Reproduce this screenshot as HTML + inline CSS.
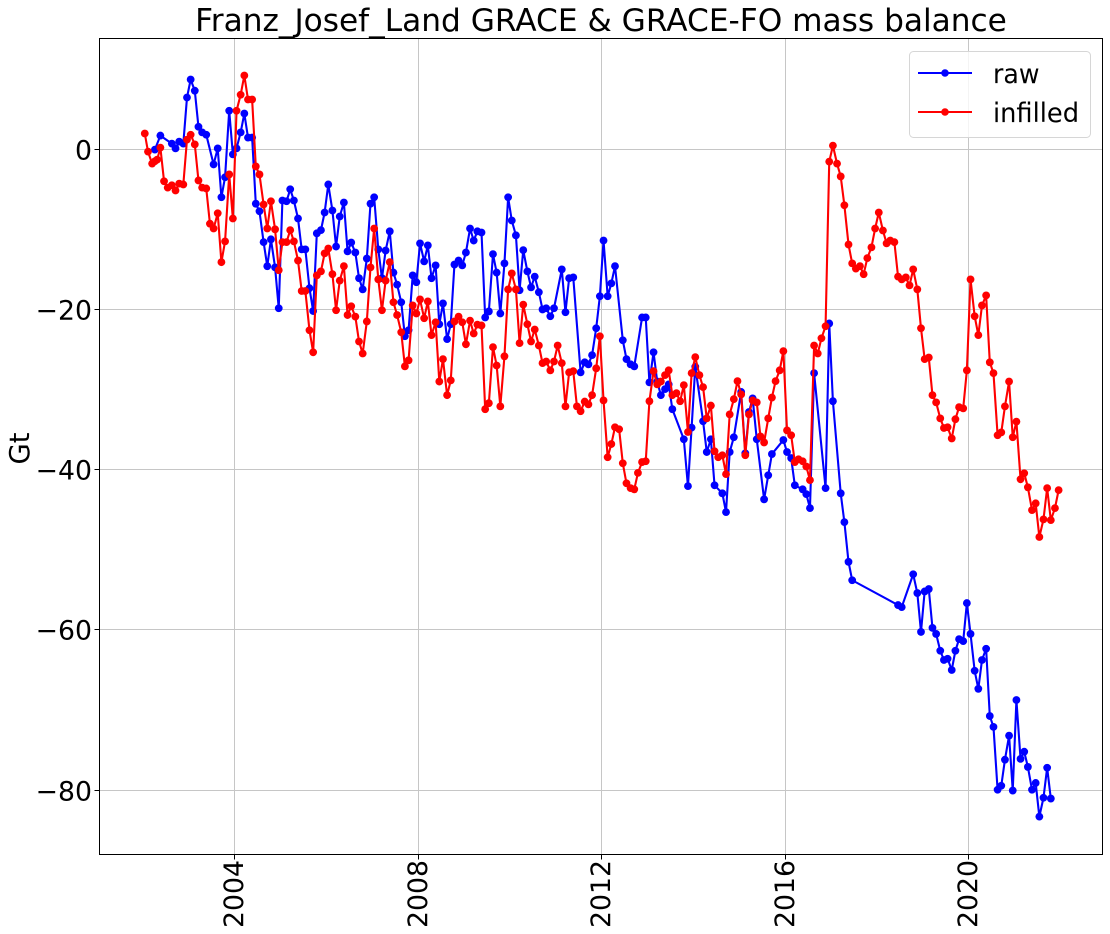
<!DOCTYPE html>
<html lang="en">
<head>
<meta charset="utf-8">
<title>Franz_Josef_Land GRACE &amp; GRACE-FO mass balance</title>
<style>
  html, body { margin: 0; padding: 0; background: #fff; }
  svg { display: block; font-family: "DejaVu Sans", "Liberation Sans", sans-serif; fill: #000; }
</style>
</head>
<body>
<svg id="chart" xmlns="http://www.w3.org/2000/svg" width="1110" height="934" viewBox="0 0 1110 934">
  <rect x="0" y="0" width="1110" height="934" fill="#ffffff"></rect>
  <g id="grid"></g>
  <g id="series"></g>
  <rect x="99.5" y="38.5" width="1003" height="816" fill="none" stroke="#000" stroke-width="1"></rect>
  <g id="ticks"></g>
  <text x="601" y="31" font-size="31.2" text-anchor="middle">Franz_Josef_Land GRACE &amp; GRACE-FO mass balance</text>
  <text transform="translate(29,448.5) rotate(-90)" font-size="27.5" text-anchor="middle">Gt</text>
  <g>
    <rect x="909.5" y="51.5" width="181" height="86" rx="4" ry="4" fill="#ffffff" fill-opacity="0.8" stroke="#d6d6d6" stroke-width="1"></rect>
    <g>
      <line x1="918" y1="73" x2="972" y2="73" stroke="#0000ff" stroke-width="2"></line>
      <circle cx="945" cy="73" r="3.8" fill="#0000ff"></circle>
      <text x="993" y="83" font-size="26.7" textLength="46.5" lengthAdjust="spacingAndGlyphs">raw</text>
    </g>
    <g>
      <line x1="918" y1="112" x2="972" y2="112" stroke="#ff0000" stroke-width="2"></line>
      <circle cx="945" cy="112" r="3.8" fill="#ff0000"></circle>
      <text x="993" y="122" font-size="26.7" textLength="86" lengthAdjust="spacingAndGlyphs">infilled</text>
    </g>
  </g>
</svg>
<script>
const xTickYears = [2004, 2008, 2012, 2016, 2020];
const yTickValues = [0, -20, -40, -60, -80];

const dates = [
  2002.04,2002.11,2002.20,2002.26,2002.31,
  2002.38,2002.46,2002.54,2002.63,2002.71,2002.79,2002.88,2002.96,
  2003.04,2003.13,2003.21,2003.29,2003.38,2003.46,2003.54,2003.63,2003.71,2003.79,2003.88,2003.96,
  2004.04,2004.13,2004.21,2004.29,2004.38,2004.46,2004.54,2004.63,2004.71,2004.79,2004.88,2004.96,
  2005.04,2005.13,2005.21,2005.29,2005.38,2005.46,2005.54,2005.63,2005.71,2005.79,2005.88,2005.96,
  2006.04,2006.13,2006.21,2006.29,2006.38,2006.46,2006.54,2006.63,2006.71,2006.79,2006.88,2006.96,
  2007.04,2007.13,2007.21,2007.29,2007.38,2007.46,2007.54,2007.63,2007.71,2007.79,2007.88,2007.96,
  2008.04,2008.13,2008.21,2008.29,2008.38,2008.46,2008.54,2008.63,2008.71,2008.79,2008.88,2008.96,
  2009.04,2009.13,2009.21,2009.29,2009.38,2009.46,2009.54,2009.63,2009.71,2009.79,2009.88,2009.96,
  2010.04,2010.13,2010.21,2010.29,2010.38,2010.46,2010.54,2010.63,2010.71,2010.79,2010.88,2010.96,
  2011.04,2011.13,2011.21,2011.29,2011.38,2011.46,2011.54,2011.63,2011.71,2011.79,2011.88,2011.96,
  2012.04,2012.13,2012.21,2012.29,2012.38,2012.46,2012.54,2012.63,2012.71,2012.79,2012.88,2012.96,
  2013.04,2013.13,2013.21,2013.29,2013.38,2013.46,2013.54,2013.63,2013.71,2013.79,2013.88,2013.96,
  2014.04,2014.13,2014.21,2014.29,2014.38,2014.46,2014.54,2014.63,2014.71,2014.79,2014.88,2014.96,
  2015.04,2015.13,2015.21,2015.29,2015.38,2015.46,2015.54,2015.63,2015.71,2015.79,2015.88,2015.96,
  2016.04,2016.13,2016.21,2016.29,2016.38,2016.46,2016.54,2016.63,2016.71,2016.79,2016.88,2016.96,
  2017.04,2017.13,2017.21,2017.29,2017.38,2017.46,2017.54,2017.63,2017.71,2017.79,2017.88,2017.96,
  2018.04,2018.13,2018.21,2018.29,2018.38,2018.46,2018.54,2018.63,2018.71,2018.79,2018.88,2018.96,
  2019.04,2019.13,2019.21,2019.29,2019.38,2019.46,2019.54,2019.63,2019.71,2019.79,2019.88,2019.96,
  2020.04,2020.13,2020.21,2020.29,2020.38,2020.46,2020.54,2020.63,2020.71,2020.79,2020.88,2020.96,
  2021.04,2021.13,2021.21,2021.29,2021.38,2021.46,2021.54,2021.63,2021.71,2021.79,2021.88,2021.96
];

const rawValues = [
  null,null,null,-0.05,null,
  1.7,null,null,0.7,0.1,0.95,0.7,6.45,
  8.7,7.3,2.8,2.1,1.8,null,-1.9,0.1,-6.0,-3.5,4.8,-0.65,
  0.1,2.1,4.45,1.45,1.45,-6.8,-7.75,-11.6,-14.6,-11.25,-14.75,-19.85,
  -6.4,-6.5,-5.0,-6.4,-8.65,-12.5,-12.5,-17.35,-20.2,-10.5,-10.1,-7.9,
  -4.4,-7.65,-12.15,-8.4,-6.65,-12.75,-11.65,-12.9,-16.1,-17.5,-13.65,-6.8,
  -6.0,-12.5,-16.1,-12.65,-10.25,-15.4,-16.9,-19.1,-23.35,-22.6,-15.75,-16.6,
  -11.75,-14.0,-12.0,-16.1,-14.5,-21.85,-19.25,-23.7,-21.85,-14.4,-13.9,-14.5,
  -12.9,-9.9,-11.4,-10.25,-10.4,-21.0,-20.25,-13.1,-15.4,-20.5,-14.25,-6.0,
  -8.9,-10.75,-17.6,-12.6,-15.25,-17.25,-15.9,-17.85,-20.0,-19.85,-20.85,-19.85,
  null,-15.0,-20.35,-16.1,-16.0,null,-27.85,-26.6,-26.85,-25.7,-22.35,-18.35,
  -11.4,-18.35,-16.75,-14.6,null,-23.85,-26.2,-26.85,-27.1,null,-21.0,-21.0,
  -29.1,-25.35,-29.0,-30.7,-29.95,-29.35,-32.45,null,null,-36.2,-42.05,-34.75,
  -27.15,null,-33.95,-37.8,-36.2,-41.95,null,-42.95,-45.3,-37.8,-35.95,null,
  -30.3,-37.95,-32.8,-31.1,-36.2,null,-43.7,-40.7,-38.05,null,null,-36.3,
  -37.8,-38.55,-41.95,null,-42.45,-43.05,-44.8,-27.95,null,null,-42.3,-21.75,
  -31.45,null,-42.95,-46.55,-51.5,-53.8,null,null,null,null,null,null,
  null,null,null,null,null,-56.9,-57.15,null,null,-53.05,-55.4,-60.25,
  -55.2,-54.9,-59.75,-60.5,-62.6,-63.75,-63.6,-65.0,-62.6,-61.15,-61.4,-56.65,
  -60.5,-65.1,-67.35,-63.75,-62.35,-70.75,-72.1,-79.95,-79.45,-76.2,-73.2,-80.05,
  -68.75,-76.1,-75.2,-77.1,-79.95,-79.1,-83.3,-80.95,-77.2,-81.05,null,null
];

const infilledValues = [
  1.96,-0.3,-1.8,-1.5,-1.3,
  0.2,-4.0,-4.8,-4.5,-5.15,-4.3,-4.4,1.2,
  1.8,0.6,-3.9,-4.8,-4.9,-9.3,-9.9,-8.0,-14.1,-11.5,-3.15,-8.65,
  4.8,6.8,9.2,6.2,6.2,-2.15,-3.15,-6.9,-9.9,-6.5,-10.0,-15.1,
  -11.6,-11.6,-10.1,-11.5,-13.9,-17.7,-17.7,-22.6,-25.35,-15.75,-15.25,-13.0,
  -12.4,-15.6,-20.1,-16.4,-14.6,-20.7,-19.6,-20.9,-24.0,-25.5,-21.5,-14.75,
  -9.9,-16.25,-20.1,-16.4,-14.1,-19.1,-20.7,-22.85,-27.1,-26.35,-19.5,-20.5,
  -18.75,-21.1,-19.0,-23.2,-21.6,-29.0,-26.2,-30.7,-28.85,-21.5,-20.9,-21.6,
  -24.35,-21.4,-23.0,-21.9,-22.0,-32.45,-31.7,-24.7,-27.0,-32.1,-25.85,-17.5,
  -15.5,-17.5,-24.2,-19.4,-21.85,-24.0,-22.5,-24.5,-26.7,-26.5,-27.6,-26.5,
  -24.5,-26.7,-32.1,-27.85,-27.7,-32.1,-32.7,-31.5,-31.85,-30.7,-27.35,-23.35,
  -31.35,-38.45,-36.8,-34.7,-34.95,-39.2,-41.7,-42.3,-42.45,-40.4,-39.05,-38.95,
  -31.45,-27.7,-29.35,-29.0,-28.2,-27.6,-30.7,-30.45,-31.45,-29.45,-35.3,-27.95,
  -25.95,-28.2,-29.7,-33.6,-32.0,-37.7,-38.45,-38.2,-40.55,-33.1,-31.2,-28.95,
  -30.6,-38.2,-33.1,-31.35,-31.6,-35.85,-36.6,-33.6,-31.0,-28.95,-27.6,-25.2,
  -35.1,-35.7,-39.05,-38.7,-38.95,-39.6,-41.3,-24.5,-25.5,-23.6,-22.1,-1.55,
  0.45,-1.8,-3.4,-7.0,-11.9,-14.25,-14.9,-14.6,-15.6,-13.6,-12.25,-9.9,
  -7.9,-10.15,-11.75,-11.4,-11.6,-15.9,-16.25,-16.0,-17.0,-15.0,-17.5,-22.35,
  -26.2,-26.0,-30.7,-31.6,-33.6,-34.8,-34.7,-36.1,-33.7,-32.2,-32.35,-27.6,
  -16.25,-20.85,-23.2,-19.5,-18.25,-26.6,-27.95,-35.7,-35.35,-32.1,-29.0,-35.95,
  -34.0,-41.2,-40.45,-42.2,-45.05,-44.2,-48.4,-46.2,-42.3,-46.3,-44.8,-42.55
];

const SVG_NS = 'http://www.w3.org/2000/svg';
const plot = { left: 99.5, right: 1102.5, top: 38.5, bottom: 854.5 };

function xScale(year) { return 234.7 + (year - 2004) * 45.875; }
function yScale(value) { return 149.2 - value * 8.012; }

function make(parent, tag, attrs) {
  const el = document.createElementNS(SVG_NS, tag);
  for (const key in attrs) el.setAttribute(key, attrs[key]);
  parent.appendChild(el);
  return el;
}

const gridGroup = document.getElementById('grid');
const tickGroup = document.getElementById('ticks');
const seriesGroup = document.getElementById('series');

xTickYears.forEach(function (year) {
  const x = Math.floor(xScale(year)) + 0.5;
  const gridLine = make(gridGroup, 'line', { x1: x, y1: plot.top, x2: x, y2: plot.bottom, stroke: '#c6c6c6', 'stroke-width': 1 });
  
  
  const tick = make(tickGroup, 'line', { x1: x, y1: plot.bottom, x2: x, y2: plot.bottom + 5, stroke: '#000', 'stroke-width': 1 });
  
  
  const label = make(tickGroup, 'text', { transform: 'translate(' + (x + 8.5) + ',' + 928 + ') rotate(-90)', 'font-size': 26.7 });
  
  
  label.textContent = String(year);
});

yTickValues.forEach(function (value) {
  const y = Math.floor(yScale(value)) + 0.5;
  const gridLine = make(gridGroup, 'line', { x1: plot.left, y1: y, x2: plot.right, y2: y, stroke: '#c6c6c6', 'stroke-width': 1 });
  
  
  const tick = make(tickGroup, 'line', { x1: plot.left - 5, y1: y, x2: plot.left, y2: y, stroke: '#000', 'stroke-width': 1 });
  
  
  const label = make(tickGroup, 'text', { x: 92, y: y + 10, 'font-size': 26.7, 'text-anchor': 'end' });
  
  
  label.textContent = value < 0 ? '\u2212' + Math.abs(value) : String(value);
});

function drawSeries(values, color, seriesName) {
  const group = make(seriesGroup, 'g', {});
  
  
  const coords = [];
  values.forEach(function (value, i) {
    if (value === null) return;
    coords.push([xScale(dates[i]), yScale(value)]);
  });
  const path = make(group, 'polyline', {
    points: coords.map(function (p) { return p[0].toFixed(2) + ',' + p[1].toFixed(2); }).join(' '),
    fill: 'none', stroke: color, 'stroke-width': 2.1, 'stroke-linejoin': 'round'
  });
  
  
  coords.forEach(function (p) {
    const dot = make(group, 'circle', { cx: p[0].toFixed(2), cy: p[1].toFixed(2), r: 3.9, fill: color });
    
    
  });
}

drawSeries(rawValues, '#0000ff', 'raw');
drawSeries(infilledValues, '#ff0000', 'infilled');
</script>
</body>
</html>
